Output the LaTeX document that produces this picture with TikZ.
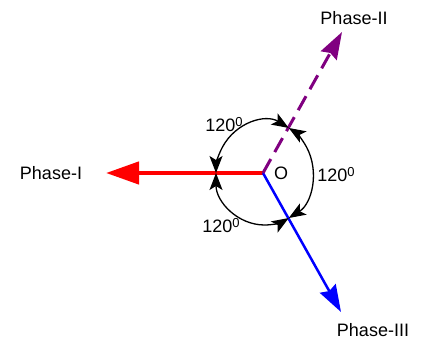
\documentclass[tikz,border=0pt]{standalone}
\usepackage{fontspec}
\setmainfont{Liberation Sans}
\usetikzlibrary{arrows.meta}
\begin{document}
\begin{tikzpicture}[x=1pt,y=1pt,
  lbl/.style={font=\fontsize{18}{20}\selectfont, inner sep=0pt},
  angarc/.style={black, line width=1.3pt, {Stealth[length=17pt,width=13pt,inset=4pt]}-{Stealth[length=17pt,width=13pt,inset=4pt]}}]
\newcommand{\degsup}{\raisebox{5pt}{\fontsize{13}{13}\selectfont 0}}
\definecolor{phpurple}{RGB}{128,0,128}
\useasboundingbox (0,0) rectangle (426,340);
\coordinate (O) at (263,167);
\coordinate (P1) at (106,167);
\coordinate (P2) at (342,308);
\coordinate (P3) at (341,28);
\coordinate (C) at (264.5,167);
% phase vectors
\draw[red, line width=4.5pt, -{Triangle[length=33pt,width=22pt]}] (O) -- (P1);
\draw[blue, line width=2.5pt, -{Stealth[length=27pt,width=18pt,inset=3pt]}] (O) -- (P3);
\draw[phpurple, line width=3pt, dash pattern=on 16pt off 8pt, -{Stealth[length=27pt,width=18pt,inset=3pt]}] (O) -- (P2);
% angle arcs
\draw[angarc] ([shift={(60:48.5 and 52)}]C) arc[start angle=60, end angle=180, x radius=48.5, y radius=52];
\draw[angarc] ([shift={(180:48.5 and 52)}]C) arc[start angle=180, end angle=300, x radius=48.5, y radius=52];
\draw[angarc] ([shift={(-60:48.5 and 52)}]C) arc[start angle=-60, end angle=60, x radius=48.5, y radius=52];
% labels
\node[lbl] (L1) at (51,167) {Phase-I};
\node[lbl] (L2) at (354,322) {Phase-II};
\node[lbl] (L3) at (373,10) {Phase-III};
\node[lbl] (Olbl) at (281,167) {O};
\node[lbl] (A1) at (224,215) {120\degsup};
\node[lbl] (A2) at (221,114) {120\degsup};
\node[lbl] (A3) at (336,165) {120\degsup};
\end{tikzpicture}
\end{document}
